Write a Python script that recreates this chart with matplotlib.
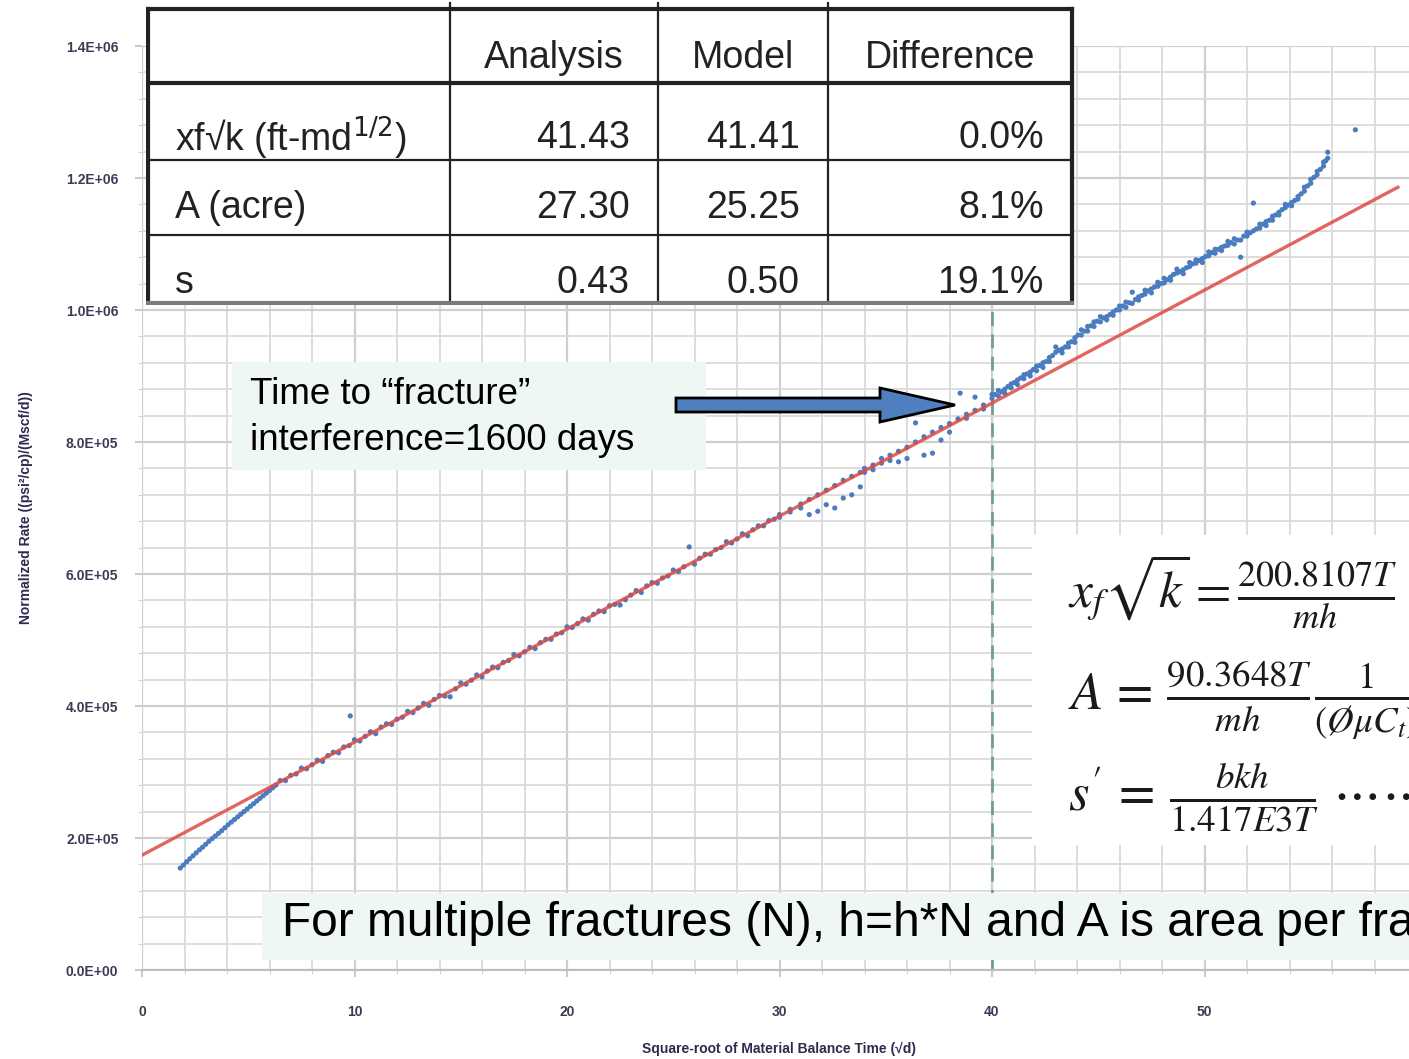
import numpy as np
import matplotlib
matplotlib.use("Agg")
import matplotlib.pyplot as plt
from matplotlib.patches import Rectangle, FancyArrow
from matplotlib.ticker import MultipleLocator, FuncFormatter

plt.rcParams['font.family'] = ['Liberation Sans', 'DejaVu Sans']

# data (rate values in thousands)
x_early = [1.8, 1.95, 2.1, 2.25, 2.4, 2.55, 2.7, 2.85, 3.0, 3.15, 3.3, 3.45, 3.6, 3.75,
           3.9, 4.05, 4.2, 4.35, 4.5, 4.65, 4.8, 4.95, 5.1, 5.25, 5.4, 5.55, 5.7, 5.85,
           6.0, 6.15, 6.3]
y_early = [154.5, 159, 164, 168.5, 173, 177.5, 182, 186, 190.5, 195, 199, 203, 207, 211,
           215.5, 220, 224, 228, 232, 236, 240, 244, 248, 252, 256, 260, 264, 268,
           272, 276, 280]

x_mid = [6.5, 6.75, 7.0, 7.25, 7.5, 7.75, 8.0, 8.25, 8.5, 8.75, 9.0, 9.25, 9.5, 9.75,
         10.0, 10.25, 10.5, 10.75, 11.0, 11.25, 11.5, 11.75, 12.0, 12.25, 12.5, 12.75,
         13.0, 13.25, 13.5, 13.75, 14.0, 14.25, 14.5, 14.75, 15.0, 15.25, 15.5, 15.75,
         16.0, 16.25, 16.5, 16.75, 17.0, 17.25, 17.5, 17.75, 18.0, 18.25, 18.5, 18.75,
         19.0, 19.25, 19.5, 19.75, 20.0, 20.25, 20.5, 20.75, 21.0, 21.25, 21.5, 21.75,
         22.0, 22.25, 22.5, 22.75, 23.0, 23.25, 23.5, 23.75, 24.0, 24.25, 24.5, 24.75,
         25.0, 25.25, 25.5, 25.75, 26.0, 26.25, 26.5, 26.75, 27.0, 27.25, 27.5, 27.75,
         28.0, 28.25, 28.5, 28.75, 29.0, 29.25, 29.5, 29.75]
y_mid = [287, 287, 295, 297, 306, 305, 311, 318, 316, 325, 330, 329, 338, 340,
         349, 347, 354, 361, 358, 368, 373, 372, 380, 383, 392, 390,
         397, 404, 401, 410, 416, 415, 414, 426, 435, 433, 439, 447,
         444, 453, 459, 458, 466, 469, 478, 476, 482, 489, 487, 496,
         501, 501, 509, 511, 520, 519, 525, 532, 530, 539, 544, 543,
         552, 554, 553, 561, 568, 575, 572, 582, 587, 586, 594, 597,
         606, 604, 611, 641, 615, 624, 630, 630, 637, 640, 649, 647,
         653, 661, 658, 667, 673, 673, 681, 683]

x_late = [30.0, 30.0, 30.5, 30.5, 31.0, 31.0, 31.4, 31.4, 31.8, 31.8, 32.2, 32.2,
          32.6, 32.6, 33.0, 33.0, 33.4, 33.4, 33.8, 33.8,
          34.0, 34.0, 34.4, 34.4, 34.8, 34.8, 35.2, 35.2, 35.6, 35.6, 36.0, 36.0,
          36.4, 36.4, 36.8, 36.8, 37.2, 37.2, 37.6, 37.6, 38.0, 38.0, 38.4, 38.5,
          38.8, 38.8, 39.2, 39.2, 39.6, 39.6]
y_late = [686, 690, 698, 694, 706, 700, 690, 713, 695, 720, 705, 727,
          700, 734, 715, 742, 720, 748, 732, 754,
          754, 760, 765, 758, 768, 775, 772, 780, 770, 786, 792, 775,
          800, 829, 780, 808, 783, 815, 803, 822, 828, 815, 835, 874,
          842, 836, 868, 848, 856, 850]

x_after = [40.0, 40.0, 40.3, 40.3, 40.6, 40.6, 40.9, 40.9, 41.2, 41.2, 41.5, 41.5,
           41.8, 41.8, 42.1, 42.1, 42.4, 42.4, 42.7, 42.7, 43.0, 43.0, 43.3, 43.3,
           43.6, 43.6, 43.9, 43.9, 44.2, 44.2, 44.5, 44.5, 44.8, 44.8, 45.1, 45.1,
           45.4, 45.4, 45.7, 45.7, 46.0, 46.0, 46.3, 46.3, 46.6, 46.6, 46.9, 46.9,
           47.2, 47.2, 47.5, 47.5, 47.8, 47.8, 48.1, 48.1, 48.4, 48.4, 48.7, 48.7,
           49.0, 49.0, 49.3, 49.3, 49.6, 49.6, 49.9, 49.9, 50.2, 50.2, 50.5, 50.5,
           50.8, 50.8, 51.1, 51.1, 51.4, 51.4, 51.7, 51.7, 52.0, 52.0, 52.3, 52.3,
           52.6, 52.6, 52.9, 52.9, 53.2, 53.2, 53.5, 53.5, 53.8, 53.8, 54.1, 54.1,
           54.4, 54.4, 54.7, 54.7, 55.0, 55.0, 55.3, 55.3, 55.6, 55.6, 55.8, 55.8, 57.1]
y_after = [866, 872, 870, 878, 880, 874, 888, 882, 894, 887, 902, 896,
           906, 900, 915, 908, 920, 913, 928, 922, 936, 944, 941, 935,
           950, 944, 958, 951, 962, 970, 968, 975, 975, 982, 982, 990,
           990, 985, 997, 992, 1000, 1006, 1004, 1012, 1027, 1010, 1015, 1020,
           1024, 1030, 1032, 1026, 1036, 1042, 1041, 1048, 1050, 1045, 1056, 1062,
           1061, 1055, 1066, 1072, 1071, 1076, 1078, 1072, 1082, 1088, 1086, 1092,
           1095, 1090, 1098, 1104, 1100, 1108, 1106, 1080, 1112, 1118, 1162, 1120,
           1124, 1130, 1134, 1128, 1136, 1142, 1148, 1144, 1155, 1160, 1163, 1158,
           1172, 1168, 1180, 1186, 1192, 1198, 1205, 1210, 1218, 1224, 1230, 1239, 1273]

x_cloud = [40.15, 40.45, 40.75, 41.05, 41.35, 41.65, 41.95, 42.25, 42.55, 42.85,
           43.15, 43.45, 43.75, 44.05, 44.35, 44.65, 44.95, 45.25, 45.55, 45.85,
           46.15, 46.45, 46.75, 47.05, 47.35, 47.65, 47.95, 48.25, 48.55, 48.85,
           49.15, 49.45, 49.75, 50.05, 50.35, 50.65, 50.95, 51.25, 51.55, 51.85,
           52.15, 52.45, 52.75, 53.05, 53.35, 53.65, 53.95, 54.25, 54.55, 54.85,
           55.15, 55.45, 55.7]
y_cloud = [872, 876, 884, 890, 897, 903, 910, 916, 922, 931,
           939, 944, 952, 962, 968, 976, 983, 988, 993, 1000,
           1006, 1011, 1016, 1022, 1029, 1035, 1040, 1046, 1054, 1058,
           1064, 1070, 1075, 1081, 1087, 1092, 1097, 1102, 1106, 1112,
           1117, 1123, 1130, 1136, 1144, 1152, 1159, 1166, 1176, 1188,
           1201, 1213, 1226]

x_outlier = [9.8]
y_outlier = [385]

# model straight line (end points)
fit_x = [0, 59.1]
fit_y = [174, 1186]

# table
col_names = ["Analysis", "Model", "Difference"]
row_names = ["xf\u221ak (ft-md$^{1/2}$)", "A (acre)", "s"]
analysis_vals = ["41.43", "27.30", "0.43"]
model_vals = ["41.41", "25.25", "0.50"]
diff_vals = ["0.0%", "8.1%", "19.1%"]

W, H = 1409, 1059
fig = plt.figure(figsize=(W / 100, H / 100), dpi=100)

# main axes: x 0..60 -> px 142..1417, y 0..1.4e6 -> px 970..46
ax = fig.add_axes([142 / W, (H - 970) / H, 1275 / W, 924 / H])
xs = np.concatenate([x_early, x_mid, x_late, x_after, x_cloud, x_outlier])
ys = np.concatenate([y_early, y_mid, y_late, y_after, y_cloud, y_outlier]) * 1e3
ax.scatter(xs, ys, s=14, color='#4a7cbf', edgecolors='none', zorder=3)
ax.plot(fit_x, np.array(fit_y) * 1e3, color='#dc4b43', lw=2.4, alpha=0.85, zorder=4)
ax.axvline(40, color='#6f9d9b', ls=(0, (5, 3)), lw=2, zorder=2)

ax.set_xlim(0, 60)
ax.set_ylim(0, 1.4e6)
ax.xaxis.set_major_locator(MultipleLocator(10))
ax.xaxis.set_minor_locator(MultipleLocator(2))
ax.yaxis.set_major_locator(MultipleLocator(2e5))
ax.yaxis.set_minor_locator(MultipleLocator(4e4))
ax.yaxis.set_major_formatter(FuncFormatter(lambda v, p: f"{v:.1E}"))
ax.grid(which='major', color='#cfcfcf', lw=1.6)
ax.grid(which='minor', color='#dadada', lw=1.3)
ax.set_axisbelow(True)
for s in ['top', 'right', 'left']:
    ax.spines[s].set_visible(False)
ax.spines['bottom'].set_color('#bdbdbd')
ax.spines['bottom'].set_linewidth(1.5)
ax.tick_params(axis='both', which='major', colors='#c0c0c0', labelcolor='#3b3b55', length=5, width=1.2)
ax.tick_params(axis='both', which='minor', colors='#c8c8c8', length=3)
ax.tick_params(axis='x', pad=20)
ax.tick_params(axis='y', pad=12)
for lab in ax.get_xticklabels() + ax.get_yticklabels():
    lab.set_fontweight('bold')
    lab.set_fontsize(10)
ax.set_xlabel("Square-root of Material Balance Time (\u221ad)", fontsize=10, fontweight='bold',
              color='#2c2c50', labelpad=17)
ax.set_ylabel("Normalized Rate ((psi\u00b2/cp)/(Mscf/d))", fontsize=10, fontweight='bold',
              color='#2c2c50', labelpad=24)

# overlay in pixel units
ov = fig.add_axes([0, 0, 1, 1], zorder=5)
ov.set_xlim(0, W)
ov.set_ylim(H, 0)
ov.axis('off')
ov.patch.set_alpha(0)

# equation box
ov.add_patch(Rectangle((1032, 535), 400, 310, fc='white', ec='none'))
ov.text(1068, 592, r"$x_f\sqrt{k}=\frac{200.8107T}{mh}$", fontsize=37,
        math_fontfamily='stix', va='center', ha='left', color='#1a1a1a')
ov.text(1068, 700, r"$A\,=\,\frac{90.3648T}{mh}\frac{1}{(\O\mu C_t)}$", fontsize=38,
        math_fontfamily='stix', va='center', ha='left', color='#1a1a1a')
ov.text(1068, 797, r"$s'\,=\,\frac{bkh}{1.417E3T}\ \cdots\cdots$", fontsize=38,
        math_fontfamily='stix', va='center', ha='left', color='#1a1a1a')

# time box and arrow
ov.add_patch(Rectangle((232, 362), 474, 108, fc='#eef7f3', ec='none'))
ov.text(250, 395, "Time to \u201cfracture\u201d", fontsize=26.5, va='center', ha='left')
ov.text(250, 440, "interference=1600 days", fontsize=26.5, va='center', ha='left')
ov.add_patch(FancyArrow(676, 405, 279, 0, width=14, head_width=34, head_length=75,
                        length_includes_head=True, fc='#4f7fbe', ec='black', lw=2))

# bottom note
ov.add_patch(Rectangle((262, 893), 1200, 67, fc='#eef7f3', ec='none'))
ov.text(282, 924, "For multiple fractures (N), h=h*N and A is area per fracture",
        fontsize=34.5, va='center', ha='left')

# table axes (pixel units, text clipped at the bottom border)
tx0, tx1, ty0, ty1 = 146, 1075, 0, 305
tab = fig.add_axes([tx0 / W, (H - ty1) / H, (tx1 - tx0) / W, (ty1 - ty0) / H], zorder=6)
tab.set_xlim(tx0, tx1)
tab.set_ylim(ty1, ty0)
tab.axis('off')
tab.add_patch(Rectangle((148, 9), 924, 294, fc='white', ec='none'))
col_x = [148, 450, 658, 828, 1072]
row_y = [9, 83, 160, 235, 303]
for i, cx in enumerate(col_x):
    lw = 3 if i in (0, len(col_x) - 1) else 1.6
    tab.plot([cx, cx], [3 if 0 < i < 4 else 9, 303], color='#222222', lw=lw)
for j, ry in enumerate(row_y):
    lw = 3 if j in (0, 1) else 1.6
    c = '#7a7a7a' if j == len(row_y) - 1 else '#222222'
    tab.plot([148, 1072], [ry, ry], color=c, lw=3 if j == len(row_y) - 1 else lw)
for k, name in enumerate(col_names):
    tab.text((col_x[k + 1] + col_x[k + 2]) / 2, 58, name, fontsize=27, ha='center',
             va='center', color='#222222', clip_on=True)
row_cy = [138, 208, 283]
for r in range(3):
    tab.text(175, row_cy[r], row_names[r], fontsize=27, ha='left', va='center',
             color='#222222', math_fontfamily='dejavusans', clip_on=True)
    for k, vals in enumerate([analysis_vals, model_vals, diff_vals]):
        tab.text(col_x[k + 2] - 28, row_cy[r], vals[r], fontsize=27, ha='right',
                 va='center', color='#222222', clip_on=True)

fig.savefig("out.png", dpi=100)
